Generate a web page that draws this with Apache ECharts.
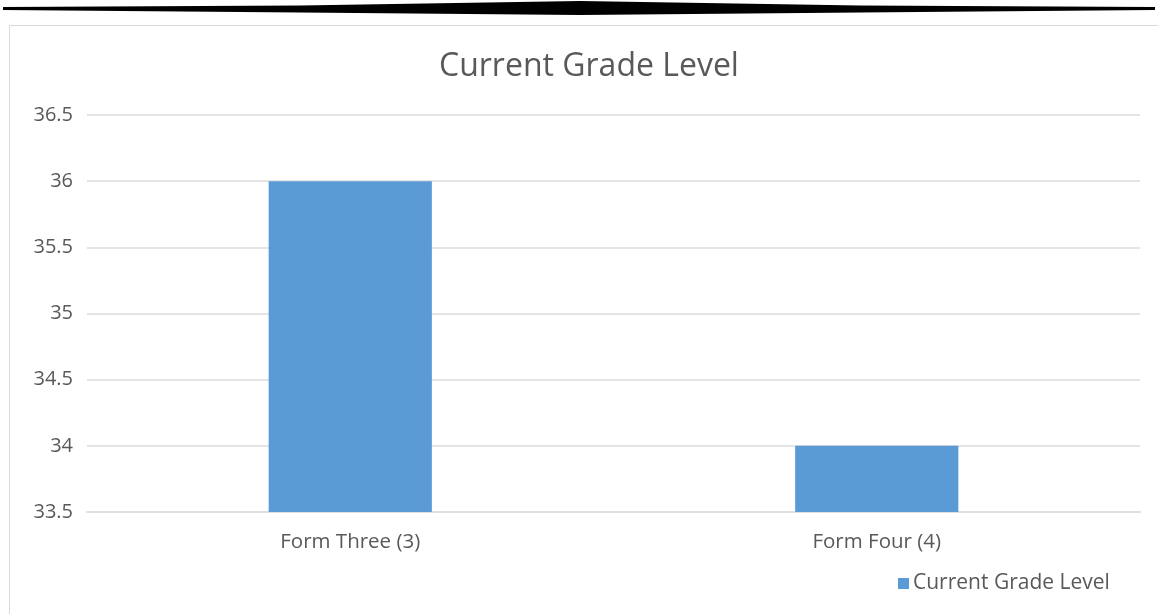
<!DOCTYPE html>
<html>
<head>
<meta charset="utf-8">
<script src="https://cdn.jsdelivr.net/npm/echarts@6/dist/echarts.min.js"></script>
<style>
html,body{margin:0;padding:0;background:#fff;}
#chart{width:1158px;height:614px;}
</style>
</head>
<body>
<div id="chart"></div>
<script>
const categories = ["Form Three (3)", "Form Four (4)"];
const seriesName = "Current Grade Level";
const values = [36, 34];
const yMin = 33.5, yMax = 36.5, yInterval = 0.5;

const FONT = "'Open Sans', sans-serif";
const TXT = "#595959";

const chart = echarts.init(document.getElementById('chart'), null, {renderer: 'canvas'});
chart.setOption({
  backgroundColor: '#ffffff',
  animation: false,
  title: {
    text: "Current Grade Level",
    left: 434,
    top: 46,
    textStyle: {fontFamily: FONT, fontSize: 32, fontWeight: 'normal', color: TXT}
  },
  graphic: [
    {type: 'rect', silent: true, shape: {x: 9.5, y: 25.5, width: 1200, height: 700},
     style: {fill: 'none', stroke: '#D9D9D9', lineWidth: 1}},
    {type: 'polygon', silent: true,
     shape: {points: [[3,7],[300,5.5],[580,1],[860,5.5],[1155,7],[1155,10],[860,12.5],[580,15],[300,12.5],[3,10]], smooth: 0},
     style: {fill: '#000'}}
  ],
  legend: {
    left: 893,
    top: 568,
    itemWidth: 11,
    itemHeight: 11,
    itemGap: 10,
    icon: 'rect',
    data: [seriesName],
    textStyle: {fontFamily: FONT, fontSize: 21, color: TXT, padding: [0,0,0,-1]}
  },
  grid: {left: 87, right: 18, top: 115, bottom: 102, containLabel: false},
  xAxis: {
    type: 'category',
    data: categories,
    axisLine: {show: true, lineStyle: {color: '#E0E0E0', width: 2}},
    axisTick: {show: false},
    axisLabel: {fontFamily: FONT, fontSize: 20.5, color: TXT, margin: 20}
  },
  yAxis: {
    type: 'value',
    min: yMin, max: yMax, interval: yInterval,
    axisLine: {show: false},
    axisTick: {show: false},
    splitLine: {lineStyle: {color: '#E4E4E4', width: 2}},
    axisLabel: {fontFamily: FONT, fontSize: 20, color: TXT, margin: 14}
  },
  series: [{
    name: seriesName,
    type: 'bar',
    data: values,
    barWidth: '31%',
    itemStyle: {color: '#5B9BD5'}
  }]
});
</script>
</body>
</html>
